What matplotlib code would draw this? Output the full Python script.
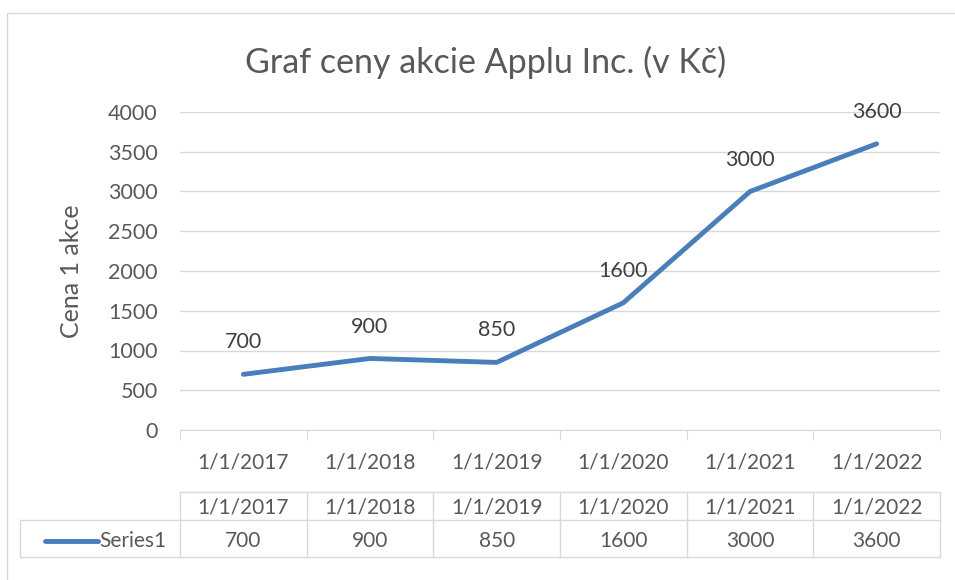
import numpy as np
import matplotlib.pyplot as plt
from matplotlib.lines import Line2D

dates = ["1/1/2017", "1/1/2018", "1/1/2019", "1/1/2020", "1/1/2021", "1/1/2022"]
prices = [700, 900, 850, 1600, 3000, 3600]
series_name = "Series1"

W, H = 955, 580
txt = "#595959"
grid = "#d9d9d9"
blue = "#4a7ebb"
plt.rcParams['font.family'] = ['Lato', 'DejaVu Sans']

fig = plt.figure(figsize=(W / 100, H / 100), dpi=100)

def fx(px):
    return px / W

def fy(py):
    return 1 - py / H

# chart border
fig.add_artist(Line2D([fx(7), fx(7), fx(955)], [fy(580), fy(13), fy(13)], color=grid, lw=1))

left, right, top, bottom = 180, 940, 112, 430
ax = fig.add_axes([fx(left), fy(bottom), fx(right - left), fy(top) - fy(bottom)])
x = np.arange(len(dates))
ax.plot(x, prices, color=blue, lw=3.5, solid_capstyle="round")
for xi, v in zip(x, prices):
    ax.annotate(str(v), (xi, v), xytext=(0, 23), textcoords="offset points",
                ha="center", va="center", fontsize=15.5, color="#404040")
ax.set_xlim(-0.5, len(dates) - 0.5)
ax.set_ylim(0, 4000)
ax.set_yticks(np.arange(0, 4001, 500))
ax.yaxis.grid(True, color=grid, lw=1)
ax.set_axisbelow(True)
for s in ["top", "right", "left"]:
    ax.spines[s].set_visible(False)
ax.spines["bottom"].set_color(grid)
ax.tick_params(axis="y", length=0, labelsize=15.5, labelcolor=txt, pad=16)
ax.set_xticks(np.arange(-0.5, len(dates), 1))
ax.set_xticklabels([])
ax.tick_params(axis="x", length=7, color=grid)
ax.set_xticks(x, minor=True)
ax.set_xticklabels(dates, minor=True)
ax.tick_params(axis="x", which="minor", length=0, labelsize=15, labelcolor=txt, pad=16)
ax.set_ylabel("Cena 1 akce", fontsize=18, color=txt, labelpad=18)

fig.text(fx(486), fy(62), "Graf ceny akcie Applu Inc. (v Kč)", ha="center", va="center",
         fontsize=24.5, color=txt)

# data table
cw = (right - left) / len(dates)
for py, x0 in [(492, left), (520, 20), (557, 20)]:
    fig.add_artist(Line2D([fx(x0), fx(right)], [fy(py), fy(py)], color=grid, lw=1))
for i in range(len(dates) + 1):
    xp = left + i * cw
    fig.add_artist(Line2D([fx(xp), fx(xp)], [fy(492), fy(557)], color=grid, lw=1))
fig.add_artist(Line2D([fx(20), fx(20)], [fy(520), fy(557)], color=grid, lw=1))
for i, (d, v) in enumerate(zip(dates, prices)):
    cx = left + (i + 0.5) * cw
    fig.text(fx(cx), fy(507), d, ha="center", va="center", fontsize=15, color=txt)
    fig.text(fx(cx), fy(541), str(v), ha="center", va="center", fontsize=15, color=txt)
fig.add_artist(Line2D([fx(45), fx(98)], [fy(541), fy(541)], color=blue, lw=3.5, solid_capstyle="round"))
fig.text(fx(99), fy(541), series_name, ha="left", va="center", fontsize=15, color=txt)

fig.savefig("out.png", dpi=100, facecolor="white")
